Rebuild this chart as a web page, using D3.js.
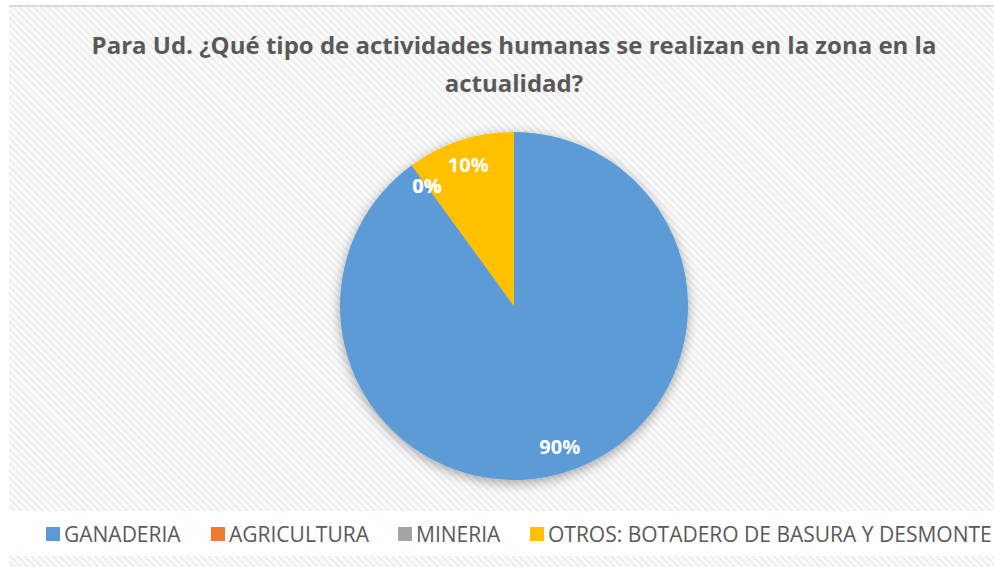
<!DOCTYPE html>
<html>
<head>
<meta charset="utf-8">
<script src="https://cdn.jsdelivr.net/npm/d3@7"></script>
<style>
  body { margin: 0; background: #fff; }
</style>
</head>
<body>
<div id="chart"></div>
<script>
// Chart data
var categories = ["GANADERIA", "AGRICULTURA", "MINERIA", "OTROS: BOTADERO DE BASURA Y DESMONTE"];
var values = [90, 0, 0, 10];
var labels = ["90%", "0%", "0%", "10%"];
var colors = ["#5b9bd5", "#ed7d31", "#a5a5a5", "#ffc000"];
var titleLines = ["Para Ud. ¿Qué tipo de actividades humanas se realizan en la zona en la", "actualidad?"];

var width = 994, height = 567;

var svg = d3.select("#chart").append("svg")
    .attr("width", width)
    .attr("height", height);

var defs = svg.append("defs");

// Diagonal hatch background
var pat = defs.append("pattern")
    .attr("id", "hatch")
    .attr("patternUnits", "userSpaceOnUse")
    .attr("width", 5)
    .attr("height", 5)
    .attr("patternTransform", "rotate(45)");
pat.append("rect").attr("width", 5).attr("height", 5).attr("fill", "#fcfcfc");
pat.append("rect").attr("width", 5).attr("height", 2.2).attr("fill", "#ededed");

// Soft shadow under the pie
var shadow = defs.append("filter")
    .attr("id", "shadow")
    .attr("x", "-20%").attr("y", "-20%")
    .attr("width", "140%").attr("height", "140%");
shadow.append("feDropShadow")
    .attr("dx", 0).attr("dy", 3)
    .attr("stdDeviation", 6)
    .attr("flood-color", "#000")
    .attr("flood-opacity", 0.35);

// Chart area
svg.append("rect")
    .attr("x", 9).attr("y", 6)
    .attr("width", width - 9).attr("height", height - 6)
    .attr("fill", "url(#hatch)");
svg.append("line")
    .attr("x1", 9).attr("x2", width)
    .attr("y1", 6).attr("y2", 6)
    .attr("stroke", "#d9d9d9")
    .attr("stroke-width", 2);

// Title
svg.append("text")
    .attr("x", 514)
    .attr("y", 54)
    .attr("text-anchor", "middle")
    .attr("font-family", "'Open Sans', sans-serif")
    .attr("font-weight", "bold")
    .attr("font-size", 24)
    .attr("fill", "#595959")
    .selectAll("tspan")
    .data(titleLines)
    .enter()
    .append("tspan")
    .attr("x", 514)
    .attr("dy", function(d, i) { return i === 0 ? 0 : 38; })
    .text(function(d) { return d; });

// Pie
var cx = 514, cy = 306, radius = 174;

var pie = d3.pie()
    .sort(null)
    .value(function(d) { return d; });

var arc = d3.arc()
    .innerRadius(0)
    .outerRadius(radius);

var labelArc = d3.arc()
    .innerRadius(148)
    .outerRadius(148);

var arcs = pie(values);

var pieGroup = svg.append("g")
    .attr("transform", "translate(" + cx + "," + cy + ")");

pieGroup.append("g")
    .attr("filter", "url(#shadow)")
    .selectAll("path")
    .data(arcs)
    .enter()
    .append("path")
    .attr("d", arc)
    .attr("fill", function(d, i) { return colors[i]; });

pieGroup.selectAll("text.label")
    .data(arcs)
    .enter()
    .append("text")
    .attr("class", "label")
    .attr("transform", function(d) { return "translate(" + labelArc.centroid(d) + ")"; })
    .attr("text-anchor", "middle")
    .attr("dy", "0.35em")
    .attr("font-family", "'Open Sans', sans-serif")
    .attr("font-weight", "bold")
    .attr("font-size", 20)
    .attr("fill", "#ffffff")
    .text(function(d, i) { return labels[i]; });

// Legend
svg.append("rect")
    .attr("x", 9).attr("y", 511)
    .attr("width", width - 9).attr("height", 45)
    .attr("fill", "#ffffff")
    .attr("opacity", 0.85);

var legendX = [46, 211, 398, 530];

var legend = svg.append("g")
    .selectAll("g")
    .data(categories)
    .enter()
    .append("g")
    .attr("transform", function(d, i) { return "translate(" + legendX[i] + ",527)"; });

legend.append("rect")
    .attr("width", 14)
    .attr("height", 14)
    .attr("fill", function(d, i) { return colors[i]; });

legend.append("text")
    .attr("x", 18)
    .attr("y", 7)
    .attr("dy", "0.36em")
    .attr("font-family", "'Open Sans', sans-serif")
    .attr("font-size", 21)
    .attr("fill", "#595959")
    .text(function(d) { return d; });
</script>
</body>
</html>
